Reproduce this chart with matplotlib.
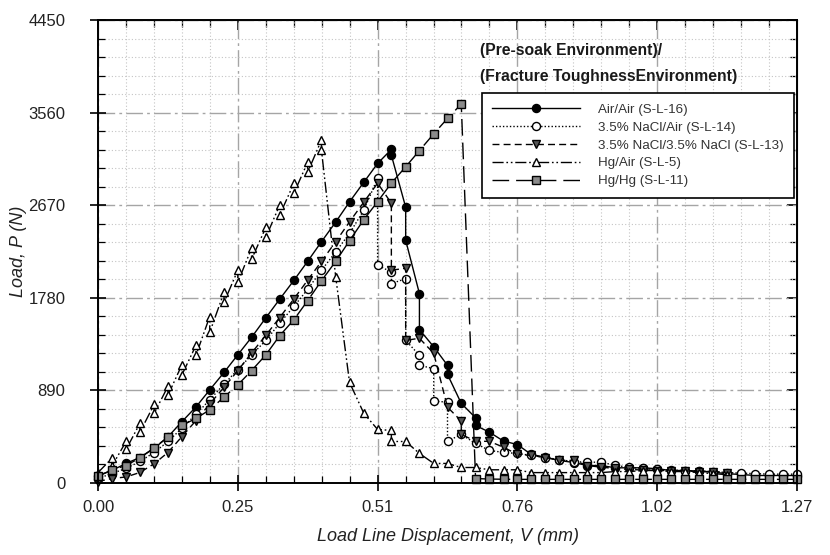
import matplotlib
matplotlib.use("Agg")
import matplotlib.pyplot as plt
from matplotlib.ticker import FixedLocator, MultipleLocator

plt.rcParams['font.family'] = ['Liberation Sans', 'DejaVu Sans']

# ---------------- data (mm, N) ----------------
air_x = [0.000, 0.025, 0.051, 0.076, 0.102, 0.127, 0.152, 0.178, 0.203, 0.229,
         0.254, 0.279, 0.305, 0.330, 0.356, 0.381, 0.406, 0.432, 0.457, 0.483,
         0.508, 0.533, 0.533, 0.559, 0.559, 0.584, 0.584, 0.610, 0.635, 0.635,
         0.660, 0.686, 0.686, 0.711, 0.737, 0.762, 0.787, 0.813, 0.838, 0.864,
         0.889, 0.914, 0.940, 0.965, 0.991, 1.016, 1.041, 1.067, 1.092, 1.118,
         1.143, 1.168, 1.194, 1.219, 1.245, 1.270]
air_y = [72, 120, 188, 245, 332, 443, 587, 731, 895, 1063,
         1232, 1400, 1588, 1766, 1948, 2131, 2319, 2509, 2702, 2891,
         3071, 3206, 3151, 2651, 2334, 1820, 1474, 1309, 1131, 1044,
         765, 627, 553, 489, 402, 370, 274, 248, 217, 197,
         168, 168, 146, 146, 146, 137, 120, 120, 114, 104,
         89, 82, 72, 72, 72, 72]

nacl_air_x = [0.000, 0.025, 0.051, 0.076, 0.102, 0.127, 0.152, 0.178, 0.203, 0.229,
              0.254, 0.279, 0.305, 0.330, 0.356, 0.381, 0.406, 0.432, 0.457, 0.483,
              0.508, 0.508, 0.533, 0.533, 0.559, 0.559, 0.584, 0.584, 0.610, 0.610,
              0.635, 0.635, 0.660, 0.686, 0.711, 0.737, 0.762, 0.787, 0.813, 0.838,
              0.864, 0.889, 0.914, 0.940, 0.965, 0.991, 1.016, 1.041, 1.067, 1.092,
              1.118, 1.143, 1.168, 1.194, 1.219, 1.245, 1.270]
nacl_air_y = [43, 91, 140, 207, 293, 399, 524, 660, 800, 950,
              1090, 1230, 1371, 1535, 1698, 1862, 2045, 2221, 2400, 2622,
              2930, 2093, 2028, 1917, 1963, 1371, 1227, 1131, 1099, 787,
              777, 402, 467, 380, 313, 294, 284, 265, 245, 225,
              205, 200, 200, 170, 150, 140, 130, 125, 120, 115,
              110, 100, 95, 90, 85, 85, 85]

nacl_nacl_x = [0.000, 0.025, 0.051, 0.076, 0.102, 0.127, 0.152, 0.178, 0.203, 0.229,
               0.254, 0.279, 0.305, 0.330, 0.356, 0.381, 0.406, 0.432, 0.457, 0.483,
               0.508, 0.533, 0.533, 0.559, 0.559, 0.584, 0.610, 0.635, 0.660, 0.660,
               0.686, 0.711, 0.737, 0.762, 0.787, 0.813, 0.838, 0.864, 0.889, 0.914,
               0.940, 0.965, 0.991, 1.016, 1.041, 1.067, 1.092, 1.118, 1.143]
nacl_nacl_y = [14, 43, 58, 101, 185, 293, 443, 600, 760, 920,
               1080, 1250, 1420, 1590, 1770, 1950, 2130, 2320, 2510, 2700,
               2882, 2689, 2045, 2064, 1371, 1391, 1246, 729, 595, 467,
               402, 400, 344, 274, 265, 245, 217, 217, 168, 152,
               140, 130, 125, 120, 120, 115, 110, 110, 100]

hg_air_x = [0.000, 0.025, 0.025, 0.051, 0.051, 0.076, 0.076, 0.102, 0.102, 0.127,
            0.127, 0.152, 0.152, 0.178, 0.178, 0.203, 0.203, 0.229, 0.229, 0.254,
            0.254, 0.279, 0.279, 0.305, 0.305, 0.330, 0.330, 0.356, 0.356, 0.381,
            0.381, 0.406, 0.406, 0.432, 0.457, 0.483, 0.508, 0.533, 0.533, 0.559,
            0.584, 0.610, 0.635, 0.660, 0.686, 0.711, 0.737, 0.762, 0.787, 0.813,
            0.838, 0.864, 0.889, 0.914, 0.940, 0.965, 0.991, 1.016, 1.041, 1.067,
            1.092, 1.118, 1.143]
hg_air_y = [100, 236, 159, 399, 322, 572, 486, 755, 669, 928,
            842, 1131, 1034, 1323, 1227, 1600, 1448, 1833, 1737, 2045,
            1929, 2256, 2150, 2458, 2362, 2670, 2574, 2882, 2786, 3084,
            2988, 3296, 3199, 1977, 967, 669, 515, 505, 399, 399,
            284, 188, 188, 149, 149, 127, 127, 127, 100, 100,
            100, 100, 100, 100, 110, 110, 120, 120, 110, 110,
            100, 90, 80]

hg_hg_x = [0.000, 0.025, 0.051, 0.076, 0.102, 0.127, 0.152, 0.178, 0.203, 0.229,
           0.254, 0.279, 0.305, 0.330, 0.356, 0.381, 0.406, 0.432, 0.457, 0.483,
           0.508, 0.533, 0.559, 0.584, 0.610, 0.635, 0.660, 0.686, 0.711, 0.737,
           0.762, 0.787, 0.813, 0.838, 0.864, 0.889, 0.914, 0.940, 0.965, 0.991,
           1.016, 1.041, 1.067, 1.092, 1.118, 1.143, 1.168, 1.194, 1.219, 1.245,
           1.270]
hg_hg_y = [63, 125, 168, 241, 339, 441, 553, 620, 704, 826,
           943, 1080, 1232, 1415, 1570, 1753, 1944, 2131, 2329, 2531,
           2704, 2882, 3039, 3195, 3356, 3504, 3642, 43, 38, 36,
           35, 35, 35, 35, 35, 35, 35, 35, 35, 35,
           35, 35, 35, 35, 35, 35, 35, 35, 35, 35,
           35]

labels = ["Air/Air (S-L-16)", "3.5% NaCl/Air (S-L-14)",
          "3.5% NaCl/3.5% NaCl (S-L-13)", "Hg/Air (S-L-5)", "Hg/Hg (S-L-11)"]

x_ticks = [0.0, 0.254, 0.508, 0.762, 1.016, 1.27]
x_ticklabels = ["0.00", "0.25", "0.51", "0.76", "1.02", "1.27"]
y_ticks = [0, 890, 1780, 2670, 3560, 4450]
y_ticklabels = ["0", "890", "1780", "2670", "3560", "4450"]

# ---------------- figure ----------------
fig = plt.figure(figsize=(8.3, 5.55), dpi=100)
ax = fig.add_axes([98/830, 1-483/555, 699/830, 463/555])

ax.set_xlim(0, 1.27)
ax.set_ylim(0, 4450)

# grid
ax.xaxis.set_major_locator(FixedLocator(x_ticks))
ax.yaxis.set_major_locator(FixedLocator(y_ticks))
ax.xaxis.set_minor_locator(MultipleLocator(0.0508))
ax.yaxis.set_minor_locator(MultipleLocator(178))
ax.grid(which='major', color='#a5a5a5', lw=1.0, linestyle=(0, (12, 3, 2, 3)))
ax.grid(which='minor', color='#c4c4c4', lw=0.8, linestyle=(0, (1, 2)))
ax.set_axisbelow(True)

ms = 5.8
lw = 1.0
common = dict(color='black', lw=lw, ms=ms, mec='black', mew=1.0, clip_on=False, zorder=3)
h1, = ax.plot(air_x, air_y, '-', marker='o', mfc='black', **common)
h2, = ax.plot(nacl_air_x, nacl_air_y, linestyle=(0, (1, 1.5)), marker='o', mfc='white', **common)
h3, = ax.plot(nacl_nacl_x, nacl_nacl_y, linestyle=(0, (5, 3)), marker='v', mfc='#555555', **common)
h4, = ax.plot(hg_air_x, hg_air_y, linestyle=(0, (8, 2, 1.2, 2, 1.2, 2)), marker='^', mfc='white', **common)
h5, = ax.plot(hg_hg_x, hg_hg_y, linestyle=(0, (12, 5)), marker='s', mfc='#8a8a8a',
              **{**common, 'ms': 5.2})

ax.set_xticklabels(x_ticklabels)
ax.set_yticklabels(y_ticklabels)
ax.tick_params(which='major', direction='inout', length=11, width=1.2, labelsize=12,
               colors='black', labelcolor='#222222')
ax.tick_params(axis='x', which='major', pad=7)
ax.tick_params(axis='y', which='major', pad=18)
ax.tick_params(which='minor', direction='in', length=5, width=0.9)

for s in ax.spines.values():
    s.set_linewidth(1.4)
    s.set_zorder(5)

# top/right inward ticks
secx = ax.secondary_xaxis('top')
secx.xaxis.set_major_locator(FixedLocator(x_ticks))
secx.xaxis.set_minor_locator(MultipleLocator(0.0508))
secx.tick_params(which='major', direction='in', length=7, width=1.2, labeltop=False)
secx.tick_params(which='minor', direction='in', length=5, width=0.9)
secy = ax.secondary_yaxis('right')
secy.yaxis.set_major_locator(FixedLocator(y_ticks))
secy.yaxis.set_minor_locator(MultipleLocator(178))
secy.tick_params(which='major', direction='in', length=7, width=1.2, labelright=False)
secy.tick_params(which='minor', direction='in', length=5, width=0.9)

ax.set_xlabel("Load Line Displacement, V (mm)", fontsize=13, style='italic',
              color='#222222', labelpad=9)
ax.set_ylabel("Load, P (N)", fontsize=13, style='italic', color='#222222', labelpad=1)

ax.text(0.546, 0.935, "(Pre-soak Environment)/", transform=ax.transAxes,
        fontsize=11.3, fontweight='bold', va='center', ha='left', color='#1a1a1a')
ax.text(0.546, 0.877, "(Fracture ToughnessEnvironment)", transform=ax.transAxes,
        fontsize=11.3, fontweight='bold', va='center', ha='left', color='#1a1a1a')

leg = ax.legend([h1, h2, h3, h4, h5], labels, loc='upper left',
                bbox_to_anchor=(0.549, 0.843), fontsize=9.6, handlelength=6.6,
                handletextpad=1.3, labelspacing=0.42, borderpad=0.8,
                fancybox=False, framealpha=1, edgecolor='black', numpoints=1,
                borderaxespad=0)
leg.get_frame().set_linewidth(1.2)
for t in leg.get_texts():
    t.set_color('#333333')

fig.savefig("out.png", dpi=100)
